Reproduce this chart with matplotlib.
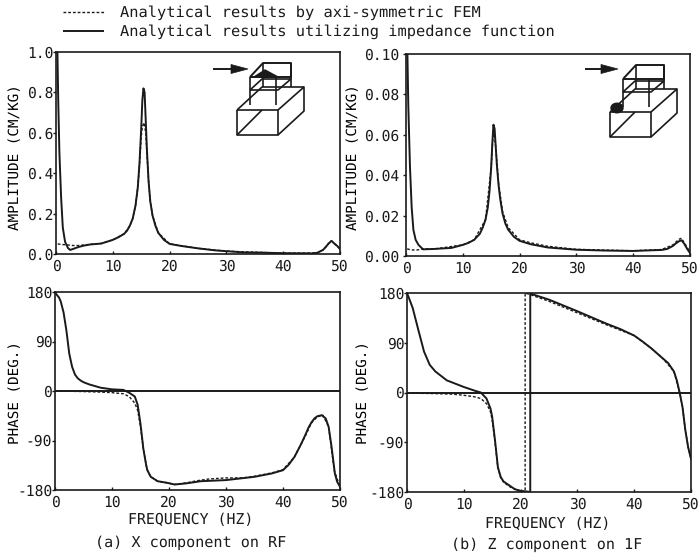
"""Frequency response at RF and 1F: amplitude and phase, FEM vs impedance function."""

import matplotlib

matplotlib.use("Agg")
import matplotlib.pyplot as plt
from matplotlib.lines import Line2D
from matplotlib.patches import Circle, Polygon

W, H = 699, 555
INK = "#1a1a1a"

# (a) amplitude, X component on RF
amp_x_imp_f = [0, 0.25, 0.4, 0.6, 0.9, 1.2, 1.6, 2.1, 2.5, 3, 4, 5, 6, 8, 10, 11, 12, 12.5, 13, 13.5, 14,
               14.4, 14.7, 15, 15.2, 15.4, 15.6, 15.8, 16, 16.3, 16.6, 17, 17.5, 18, 19, 20, 22, 25,
               28, 30, 33, 36, 40, 45, 46, 47, 47.5, 48, 48.5, 49, 49.5, 50]
amp_x_imp = [1.0, 1.0, 0.75, 0.5, 0.28, 0.13, 0.06, 0.03, 0.02, 0.025, 0.035, 0.042, 0.047, 0.052, 0.07,
             0.083, 0.10, 0.115, 0.14, 0.175, 0.24, 0.33, 0.45, 0.62, 0.76, 0.82, 0.80, 0.66, 0.52, 0.36,
             0.26, 0.19, 0.14, 0.105, 0.07, 0.05, 0.04, 0.028, 0.018, 0.014, 0.008, 0.007, 0.004,
             0.003, 0.006, 0.02, 0.035, 0.052, 0.065, 0.052, 0.04, 0.025]
amp_x_fem_f = [0.3, 1, 2, 3, 4, 5, 6, 8, 10, 12, 13, 13.5, 14, 14.4, 14.7, 15, 15.2, 15.5, 15.8, 16, 16.3,
               16.6, 17, 18, 20, 25, 30, 40, 46, 47, 48, 48.5, 49, 50]
amp_x_fem = [0.05, 0.047, 0.045, 0.042, 0.042, 0.045, 0.048, 0.052, 0.07, 0.10, 0.14, 0.175, 0.24, 0.33,
             0.44, 0.58, 0.63, 0.65, 0.6, 0.5, 0.36, 0.26, 0.19, 0.105, 0.05, 0.028, 0.014, 0.004,
             0.005, 0.02, 0.052, 0.065, 0.052, 0.025]

# (b) amplitude, Z component on 1F
amp_z_imp_f = [0, 0.25, 0.4, 0.7, 1, 1.3, 1.7, 2.2, 3, 5, 8, 10, 11, 12, 13, 13.5, 14, 14.4, 14.7, 15,
               15.2, 15.4, 15.6, 15.8, 16, 16.3, 16.6, 17, 17.5, 18, 19, 20, 22, 25, 30, 35, 40, 45,
               46, 47, 47.5, 48, 48.5, 49, 49.5, 50]
amp_z_imp = [0.1, 0.1, 0.075, 0.044, 0.024, 0.013, 0.008, 0.0055, 0.0033, 0.0035, 0.004, 0.0055, 0.0065,
             0.008, 0.011, 0.014, 0.018, 0.024, 0.032, 0.044, 0.056, 0.065, 0.063, 0.054, 0.045, 0.035,
             0.028, 0.021, 0.016, 0.013, 0.0095, 0.0075, 0.0058, 0.0042, 0.0031, 0.0027, 0.0025,
             0.003, 0.0035, 0.005, 0.0062, 0.0072, 0.0078, 0.006, 0.0035, 0.0015]
amp_z_fem_f = [0.2, 1, 2, 3, 5, 10, 12, 14, 15, 15.4, 15.8, 16.3, 17, 18, 20, 22, 25, 30, 40, 45, 47, 48,
               48.5, 49, 50]
amp_z_fem = [0.0035, 0.003, 0.003, 0.0035, 0.0035, 0.0055, 0.008, 0.018, 0.044, 0.064, 0.054, 0.036, 0.022,
             0.014, 0.008, 0.0065, 0.0048, 0.0033, 0.0026, 0.0032, 0.0055, 0.0082, 0.0088, 0.0065,
             0.002]

# (a) phase
ph_x_imp_f = [0, 0.3, 0.7, 1, 1.5, 2, 2.5, 3, 3.5, 4, 4.5, 5, 6, 8, 10, 12, 13, 14, 14.5, 15, 15.5, 16,
              16.2, 16.8, 18, 19.7, 21, 23, 25.6, 30, 35, 38, 40, 41, 42, 43.2, 44, 44.5, 45, 45.5,
              46, 46.8, 47.5, 48, 48.5, 49.1, 49.5, 50]
ph_x_imp = [180, 175, 170, 163, 143, 110, 68, 44, 30, 23, 19, 16, 12, 6, 3, 2, -3, -10, -25, -60, -105,
            -135, -144, -156, -164, -167, -170, -168, -164, -162, -156, -150, -144, -134, -120, -96,
            -78, -66, -57, -50, -46, -44, -50, -65, -100, -150, -165, -174]
ph_x_fem_f = [0, 5, 8, 10, 11, 12, 13, 14, 14.5, 15, 15.5, 16, 16.2, 16.8, 18, 19.7, 21, 23, 25, 27, 30,
              33, 35, 38, 40, 42, 44, 45, 46, 47, 48, 49, 50]
ph_x_fem = [0, -1, -2, -3, -4, -5, -10, -22, -35, -65, -105, -135, -144, -156, -164, -167, -170, -167,
            -163, -160, -158, -158, -155, -149, -143, -120, -80, -58, -47, -44, -65, -145, -174]

# (b) phase; the curves wrap from -180 to 180 near 21-22 Hz
ph_z_imp_f = [0, 0.3, 1, 2, 3, 4, 5, 7, 10, 12, 13, 14, 14.7, 15, 15.5, 16, 16.5, 17, 18, 19, 20, 21, 21.7,
              21.7, 22, 25, 30, 35, 37.5, 40, 41.5, 43, 45, 46, 47, 47.5, 48, 48.5, 49, 49.5, 50]
ph_z_imp = [180, 172, 153, 113, 74, 50, 38, 22, 10, 3, 0, -11, -29, -44, -87, -135, -153, -161, -168, -175,
            -178, -179, -180, 180, 178, 168, 147, 125, 115, 103, 92, 80, 62, 53, 38, 22, 0, -26, -68,
            -99, -120]
ph_z_fem_f = [0, 5, 8, 10, 12, 13, 14, 14.7, 15, 15.5, 16, 16.5, 17, 18, 19, 20, 20.8, 20.8, 22, 25, 30,
              35, 40, 43, 45, 47, 48, 48.5, 49, 49.5, 50]
ph_z_fem = [-1, -2, -3, -5, -8, -11, -20, -35, -50, -90, -136, -154, -162, -170, -175, -178, -180, 180,
            176, 165, 144, 123, 103, 80, 62, 38, 0, -26, -68, -99, -120]

x_ticks = [0, 10, 20, 30, 40, 50]
amp_x_ticks = [0.0, 0.2, 0.4, 0.6, 0.8, 1.0]
amp_z_ticks = [0.00, 0.02, 0.04, 0.06, 0.08, 0.10]
phase_ticks = [-180, -90, 0, 90, 180]

legend_labels = ["Analytical results by axi-symmetric FEM",
                 "Analytical results utilizing impedance function"]
captions = ["(a) X component on RF", "(b) Z component on 1F"]

plt.rcParams.update({"font.family": "DejaVu Sans Mono", "font.size": 10, "text.color": INK,
                     "axes.edgecolor": INK, "xtick.color": INK, "ytick.color": INK,
                     "text.hinting": "no_hinting", "text.hinting_factor": 8})

fig = plt.figure(figsize=(W / 100, H / 100), dpi=100)


def make_ax(x0, y0, x1, y1):
    return fig.add_axes([x0 / W, 1 - y1 / H, (x1 - x0) / W, (y1 - y0) / H])


def px(x, y):
    return x / W, 1 - y / H


def seg(points, lw=1.2, ls="-"):
    xs, ys = zip(*[px(*p) for p in points])
    fig.add_artist(Line2D(xs, ys, color=INK, lw=lw, ls=ls, solid_capstyle="butt"))


def draw_curves(ax, fem, imp):
    ax.plot(fem[0], fem[1], color=INK, lw=1.0, ls=(0, (2, 1.4)))
    ax.plot(imp[0], imp[1], color=INK, lw=1.4)


def style(ax, yticks, ylabels, ylabel, ylim, labelx, labely=0.5, ypad=0):
    ax.set_xlim(0, 50)
    ax.set_ylim(*ylim)
    ax.set_xticks(x_ticks)
    ax.set_yticks(yticks, ylabels)
    ax.tick_params(length=2, width=1.0, labelsize=10.5)
    ax.tick_params(axis="y", direction="out", pad=ypad)
    ax.tick_params(axis="x", direction="in", pad=4)
    ax.set_ylabel(ylabel, fontsize=10.3)
    ax.yaxis.set_label_coords(labelx, labely)
    for s in ax.spines.values():
        s.set_linewidth(1.2)


def frame_icon(dx, dy):
    # wireframe building on its foundation block, pixels from the top left
    def p(pts):
        return [(x + dx, y + dy) for x, y in pts]

    seg(p([(237, 110), (278, 110), (278, 135), (237, 135), (237, 110)]))
    seg(p([(237, 135), (262, 110)]))
    seg(p([(278, 135), (304, 111), (304, 87), (278, 110)]))
    seg(p([(237, 110), (262, 87), (304, 87)]))
    # roof and middle floor
    seg(p([(250, 77), (291, 77), (291, 63), (263, 63), (250, 77)]), lw=1.4)
    seg(p([(250, 90), (278, 90), (291, 79), (262, 79), (250, 90)]))
    # columns
    seg(p([(250, 77), (250, 105)]))
    seg(p([(276, 77), (276, 105)]))
    seg(p([(263, 63), (263, 87)]))
    seg(p([(291, 63), (291, 87)]))


def arrow(x0, x1, y):
    seg([(x0, y), (x1 - 10, y)], lw=1.4)
    fig.add_artist(Polygon([px(x1 - 17, y - 4.5), px(x1, y), px(x1 - 17, y + 4.5)], closed=True,
                           transform=fig.transFigure, fc=INK, ec=INK, lw=0.5))


ax = make_ax(56, 52, 340, 254)
draw_curves(ax, (amp_x_fem_f, amp_x_fem), (amp_x_imp_f, amp_x_imp))
style(ax, amp_x_ticks, [f"{v:.1f}" for v in amp_x_ticks], "AMPLITUDE (CM/KG)", (0, 1), -0.12, 0.48)

ax = make_ax(406, 54, 690, 256)
draw_curves(ax, (amp_z_fem_f, amp_z_fem), (amp_z_imp_f, amp_z_imp))
style(ax, amp_z_ticks, [f"{v:.2f}" for v in amp_z_ticks], "AMPLITUDE (CM/KG)", (0, 0.1), -0.162, 0.49, ypad=3)

ax = make_ax(55, 292, 340, 490)
draw_curves(ax, (ph_x_fem_f, ph_x_fem), (ph_x_imp_f, ph_x_imp))
ax.axhline(0, color=INK, lw=1.4)
style(ax, phase_ticks, [str(v) for v in phase_ticks], "PHASE (DEG.)", (-180, 180), -0.116, 0.49)

ax = make_ax(407, 293, 691, 492)
draw_curves(ax, (ph_z_fem_f, ph_z_fem), (ph_z_imp_f, ph_z_imp))
ax.axhline(0, color=INK, lw=1.4)
style(ax, phase_ticks, [str(v) for v in phase_ticks], "PHASE (DEG.)", (-180, 180), -0.13, 0.5)

# legend, x labels and captions
seg([(63, 12), (104, 12)], lw=1.0, ls=(0, (2, 1.4)))
seg([(63, 31), (104, 31)], lw=1.4)
fig.text(*px(120, 13), legend_labels[0], fontsize=11.06, va="center")
fig.text(*px(120, 32), legend_labels[1], fontsize=11.06, va="center")
fig.text(*px(191, 520), "FREQUENCY (HZ)", fontsize=10.68, ha="center", va="center")
fig.text(*px(548, 524), "FREQUENCY (HZ)", fontsize=10.68, ha="center", va="center")
fig.text(*px(191, 543), captions[0], fontsize=10.93, ha="center", va="center")
fig.text(*px(547, 545), captions[1], fontsize=10.93, ha="center", va="center")

# inset sketches
frame_icon(0, 0)
arrow(213, 248, 69)
fig.add_artist(Polygon([px(254, 77), px(265, 70), px(278, 77)], closed=True,
                       transform=fig.transFigure, fc=INK, ec=INK))
frame_icon(373, 2)
arrow(585, 618, 69)
fig.add_artist(Circle(px(617, 108), 6 / W, transform=fig.transFigure, fc=INK, ec=INK))

fig.savefig("out.png", dpi=100)
